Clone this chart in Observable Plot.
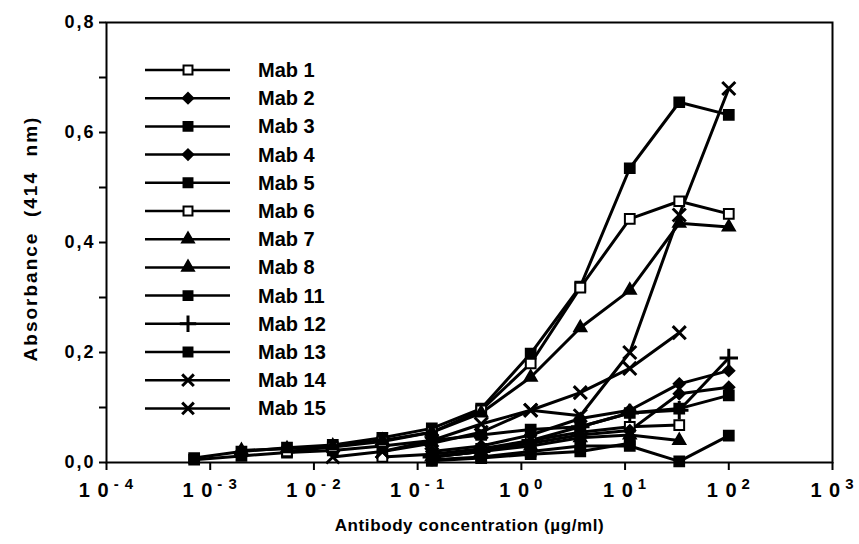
<!DOCTYPE html>
<html><head><meta charset="utf-8">
<script src="https://cdn.jsdelivr.net/npm/d3@7"></script>
<script src="https://cdn.jsdelivr.net/npm/@observablehq/plot@0.6"></script>
<style>
body{margin:0;background:#fff;}
#wrap{position:relative;width:859px;height:544px;font-family:"Liberation Sans",Arial,sans-serif;}
#wrap svg{position:absolute;left:0;top:0;}
</style></head><body><div id="wrap"></div>
<script>
// Antibody concentrations (µg/ml)
const conc = [0.0007, 0.002, 0.0055, 0.0152, 0.0457, 0.137, 0.41, 1.23, 3.7, 11.1, 33.3, 100];
const mabNames = ["Mab 1","Mab 2","Mab 3","Mab 4","Mab 5","Mab 6","Mab 7","Mab 8","Mab 11","Mab 12","Mab 13","Mab 14","Mab 15"];
// Absorbance (414 nm) per concentration; null = not measured
const mab1  = [null, null, null, null, 0.010, 0.015, 0.025, 0.040, 0.055, 0.065, 0.068, null];
const mab2  = [null, null, null, null, null, 0.020, 0.030, 0.050, 0.080, 0.095, 0.143, 0.167];
const mab3  = [0.005, 0.012, 0.018, 0.022, 0.030, 0.040, 0.050, 0.060, 0.065, 0.090, 0.098, 0.122];
const mab4  = [null, null, null, null, null, 0.010, 0.020, 0.035, 0.050, 0.058, 0.125, 0.137];
const mab5  = [0.008, 0.020, 0.027, 0.032, 0.045, 0.062, 0.098, 0.198, 0.320, 0.535, 0.655, 0.632];
const mab6  = [null, null, 0.020, 0.028, 0.038, 0.055, 0.095, 0.180, 0.318, 0.443, 0.475, 0.452];
const mab7  = [null, 0.022, 0.025, 0.030, 0.040, 0.055, 0.090, 0.155, 0.245, 0.313, 0.435, 0.428];
const mab8  = [null, null, null, null, null, 0.010, 0.020, 0.030, 0.045, 0.050, 0.040, null];
const mab11 = [null, null, null, null, null, 0.003, 0.008, 0.015, 0.020, 0.035, null, null];
const mab12 = [null, null, null, null, null, 0.010, 0.020, 0.040, 0.065, 0.090, 0.095, 0.190];
const mab13 = [null, null, null, null, null, 0.005, 0.010, 0.020, 0.030, 0.030, 0.002, 0.049];
const mab14 = [null, null, null, null, 0.020, 0.035, 0.055, 0.095, 0.127, 0.171, 0.236, null];
const mab15 = [null, null, null, 0.010, 0.020, 0.040, 0.070, 0.095, 0.085, 0.200, 0.450, 0.680];
const seriesValues = [mab1, mab2, mab3, mab4, mab5, mab6, mab7, mab8, mab11, mab12, mab13, mab14, mab15];
const symbolNames = ["square","diamond2","square","diamond2","square","square","triangle","triangle","square","plus","square","times","times"];
const symbolFills = ["white","black","black","black","black","white","black","black","black","none","black","none","none"];
// axis ticks
const yTicks = [0, 0.2, 0.4, 0.6, 0.8];
const yMinorTicks = [0.1, 0.3, 0.5, 0.7];
const xTicks = [1e-4, 1e-3, 1e-2, 1e-1, 1e0, 1e1, 1e2, 1e3];
const xTitle = "Antibody concentration (µg/ml)";
const yTitle = "Absorbance\u00a0\u00a0(414\u00a0\u00a0nm)";

const rows = [];
seriesValues.forEach((vals, i) => vals.forEach((v, j) => {
  if (v != null) rows.push({mab: mabNames[i], c: conc[j], a: v});
}));

const symR = {square: 5.5, diamond2: 5, triangle: 4.5, plus: 6, times: 6};
const dotMarks = mabNames.map((name, i) => Plot.dot(rows.filter(r => r.mab === name), {
  x: "c", y: "a", symbol: symbolNames[i], r: symR[symbolNames[i]],
  fill: symbolFills[i], stroke: "black", strokeWidth: symbolFills[i] === "none" ? 3 : 2
}));

const chart = Plot.plot({
  width: 859, height: 544,
  marginLeft: 106, marginRight: 27, marginTop: 22, marginBottom: 82,
  style: {fontFamily: "'Liberation Sans', Arial, sans-serif", fontWeight: "bold", fontSize: "18px", color: "black", background: "white"},
  x: {type: "log", domain: [1e-4, 1e3]},
  y: {domain: [0, 0.8]},
  marks: [
    Plot.frame({stroke: "black", strokeWidth: 2}),
    Plot.axisY({ticks: yTicks, tickFormat: d => d.toFixed(1).replace(".", ","), tickSize: 7, tickPadding: 4, strokeWidth: 2, label: null, fontSize: 18, fontWeight: "bold"}),
    Plot.axisY({ticks: yMinorTicks, tickFormat: () => "", tickSize: 7, strokeWidth: 2, label: null}),
    Plot.axisX({ticks: xTicks, tickFormat: d => "10^" + Math.round(Math.log10(d)), tickSize: 8, tickPadding: 12, strokeWidth: 2, label: null, fontSize: 20, fontWeight: "bold"}),
    Plot.line(rows, {x: "c", y: "a", z: "mab", stroke: "black", strokeWidth: 3}),
    ...dotMarks,
    Plot.text([xTitle], {text: d => d, frameAnchor: "bottom", dy: 68, fontSize: 17, fontWeight: "bold"}),
    Plot.text([yTitle], {text: d => d, frameAnchor: "left", textAnchor: "middle", dx: -76, dy: -4, rotate: -90, fontSize: 19, fontWeight: "bold"})
  ]
});
document.getElementById("wrap").appendChild(chart);

// superscript exponents on x tick labels
d3.select(chart).selectAll('g[aria-label="x-axis tick label"] text').each(function() {
  const t = d3.select(this);
  const s = t.text();
  const exp = s.split("^")[1];
  t.text(null).style("font-size", "20px").style("letter-spacing", "1px");
  t.append("tspan").text("1 0");
  t.append("tspan").attr("dy", "-0.5em").style("font-size", "15px").attr("dx", "4")
    .text(exp.startsWith("-") ? "- " + exp.slice(1) : exp);
});
d3.select(chart).selectAll('g[aria-label="y-axis tick label"] text').style("letter-spacing", "2px");
const titleTexts = d3.select(chart).selectAll('g[aria-label="text"] text');
titleTexts.style("letter-spacing", "0.6px");
titleTexts.filter(function() { return d3.select(this).text().startsWith("Absorbance"); }).style("letter-spacing", "2px");

// legend overlay
const leg = d3.select("#wrap").append("svg").attr("width", 859).attr("height", 544)
  .style("pointer-events", "none");
const symMap = {square: d3.symbolSquare, diamond2: d3.symbolDiamond2, triangle: d3.symbolTriangle, plus: d3.symbolPlus, times: d3.symbolTimes};
const legSize = {square: 80, diamond2: 70, triangle: 60, plus: 90, times: 90};
mabNames.forEach((name, i) => {
  const y = 70 + i * 28.2;
  const g = leg.append("g");
  g.append("line").attr("x1", 145).attr("x2", 230).attr("y1", y).attr("y2", y)
    .attr("stroke", "black").attr("stroke-width", 2.5);
  const stroked = symbolFills[i] === "none";
  g.append("path").attr("transform", `translate(188,${y})`)
    .attr("d", d3.symbol(symMap[symbolNames[i]], legSize[symbolNames[i]])())
    .attr("fill", symbolFills[i]).attr("stroke", "black").attr("stroke-width", stroked ? 3 : 2);
  g.append("text").attr("x", 258).attr("y", y + 7).text(name)
    .attr("font-family", "'Liberation Sans', Arial, sans-serif").attr("font-weight", "bold").attr("font-size", 20);
});
</script></body></html>
